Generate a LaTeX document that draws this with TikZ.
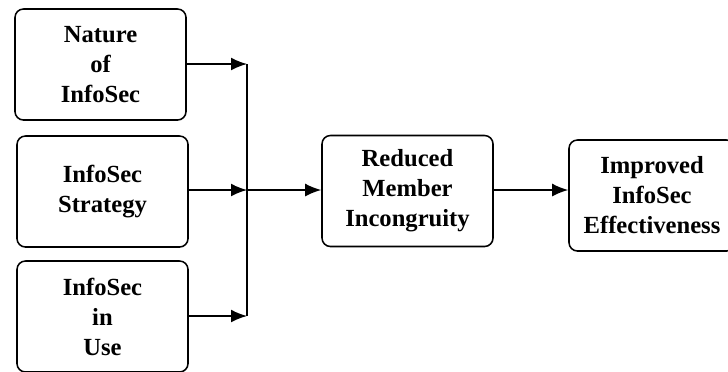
\documentclass[tikz,border=0pt]{standalone}
\usepackage{fontspec}
\setmainfont{Liberation Serif}
\usepackage{tikz}
\usetikzlibrary{arrows.meta,positioning,calc}

\begin{document}
\begin{tikzpicture}[x=0.025cm, y=-0.025cm,
	box/.style={draw, line width=1.1pt, rounded corners=6pt, minimum width=171*0.025cm, minimum height=111*0.025cm, align=center, inner sep=0pt, font=\fontsize{17.5}{21.3}\selectfont\bfseries},
	arr/.style={-{Latex[length=4mm, width=3.2mm]}, line width=1pt}]
	\useasboundingbox (0,0) rectangle (728,371);
	\node[box] (nature) at (100.5,64.5) {Nature\\of\\InfoSec};
	\node[box] (strategy) at (102.5,191.5) {InfoSec\\Strategy};
	\node[box] (use) at (102.5,316.5) {InfoSec\\in\\Use};
	\node[box] (reduced) at (407.5,191) {Reduced\\Member\\Incongruity};
	\node[box, minimum width=166*0.025cm] (improved) at (652,195.5) {Improved\\InfoSec\\Effectiveness};
	% junction line
	\coordinate (jtop) at (247,64);
	\coordinate (jmid) at (247,190);
	\coordinate (jbot) at (247,316);
	\draw[line width=1pt] (jtop) -- (jbot);
	\draw[arr] (nature.east |- jtop) -- (jtop);
	\draw[arr] (strategy.east |- jmid) -- (jmid);
	\draw[arr] (use.east |- jbot) -- (jbot);
	\draw[arr] (jmid) -- (jmid -| reduced.west);
	\draw[arr] (reduced.east |- jmid) -- (jmid -| improved.west);
\end{tikzpicture}
\end{document}
